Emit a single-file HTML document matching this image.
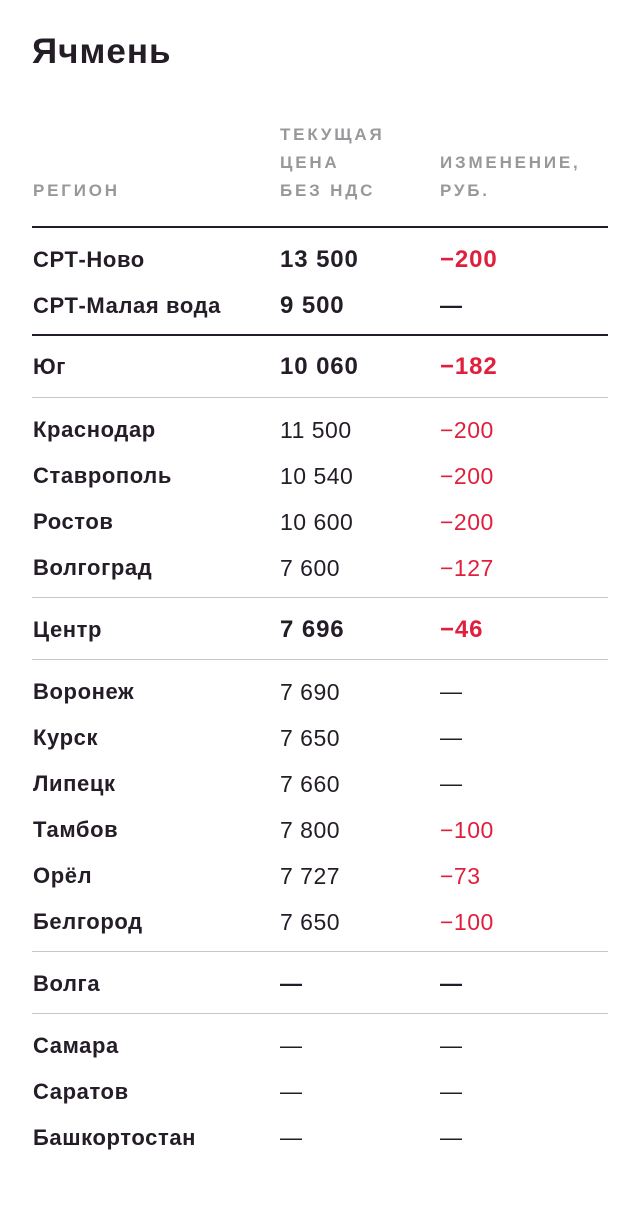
<!DOCTYPE html>
<html><head><meta charset="utf-8"><style>
body{margin:0;width:640px;height:1208px;background:#fff;position:relative;font-family:"Liberation Sans",sans-serif;color:#241c27;overflow:hidden}
.t{position:absolute;white-space:nowrap;line-height:30px;height:30px;font-size:22px;letter-spacing:0.6px}
.b{font-weight:bold}
.n{font-size:23px;letter-spacing:0.5px}
.bn{font-size:24px;letter-spacing:0.9px}
.r{color:#e01f3d}
.h{position:absolute;font-size:17px;letter-spacing:2.8px;color:#9a979b;line-height:28px;font-weight:bold}
.l{position:absolute;left:32px;width:576px;height:1px;background:#c8c6c9}
.d{background:#241c27;height:2px}
</style></head><body>
<div style="position:absolute;left:32px;top:32px;font-size:35px;font-weight:bold;letter-spacing:1px">Ячмень</div>
<div class="h" style="left:33px;top:177px">РЕГИОН</div>
<div class="h" style="left:280px;top:121px">ТЕКУЩАЯ<br>ЦЕНА<br>БЕЗ НДС</div>
<div class="h" style="left:440px;top:149px">ИЗМЕНЕНИЕ,<br>РУБ.</div>
<div class="l d" style="top:226px"></div>
<div class="l d" style="top:334px"></div>
<div class="l" style="top:397px"></div>
<div class="l" style="top:597px"></div>
<div class="l" style="top:659px"></div>
<div class="l" style="top:951px"></div>
<div class="l" style="top:1013px"></div>

<div class="t b" style="left:33px;top:245px">СРТ-Ново</div><div class="t b bn" style="left:280px;top:245px">13 500</div><div class="t b bn r" style="left:440px;top:245px">−200</div>
<div class="t b" style="left:33px;top:291px">СРТ-Малая вода</div><div class="t b bn" style="left:280px;top:291px">9 500</div><div class="t b" style="left:440px;top:291px">—</div>
<div class="t b" style="left:33px;top:352px">Юг</div><div class="t b bn" style="left:280px;top:352px">10 060</div><div class="t b bn r" style="left:440px;top:352px">−182</div>

<div class="t b" style="left:33px;top:415px">Краснодар</div><div class="t n" style="left:280px;top:415px">11 500</div><div class="t n r" style="left:440px;top:415px">−200</div>
<div class="t b" style="left:33px;top:461px">Ставрополь</div><div class="t n" style="left:280px;top:461px">10 540</div><div class="t n r" style="left:440px;top:461px">−200</div>
<div class="t b" style="left:33px;top:507px">Ростов</div><div class="t n" style="left:280px;top:507px">10 600</div><div class="t n r" style="left:440px;top:507px">−200</div>
<div class="t b" style="left:33px;top:553px">Волгоград</div><div class="t n" style="left:280px;top:553px">7 600</div><div class="t n r" style="left:440px;top:553px">−127</div>

<div class="t b" style="left:33px;top:615px">Центр</div><div class="t b bn" style="left:280px;top:615px">7 696</div><div class="t b bn r" style="left:440px;top:615px">−46</div>

<div class="t b" style="left:33px;top:677px">Воронеж</div><div class="t n" style="left:280px;top:677px">7 690</div><div class="t" style="left:440px;top:677px">—</div>
<div class="t b" style="left:33px;top:723px">Курск</div><div class="t n" style="left:280px;top:723px">7 650</div><div class="t" style="left:440px;top:723px">—</div>
<div class="t b" style="left:33px;top:769px">Липецк</div><div class="t n" style="left:280px;top:769px">7 660</div><div class="t" style="left:440px;top:769px">—</div>
<div class="t b" style="left:33px;top:815px">Тамбов</div><div class="t n" style="left:280px;top:815px">7 800</div><div class="t n r" style="left:440px;top:815px">−100</div>
<div class="t b" style="left:33px;top:861px">Орёл</div><div class="t n" style="left:280px;top:861px">7 727</div><div class="t n r" style="left:440px;top:861px">−73</div>
<div class="t b" style="left:33px;top:907px">Белгород</div><div class="t n" style="left:280px;top:907px">7 650</div><div class="t n r" style="left:440px;top:907px">−100</div>

<div class="t b" style="left:33px;top:969px">Волга</div><div class="t b" style="left:280px;top:969px">—</div><div class="t b" style="left:440px;top:969px">—</div>

<div class="t b" style="left:33px;top:1031px">Самара</div><div class="t" style="left:280px;top:1031px">—</div><div class="t" style="left:440px;top:1031px">—</div>
<div class="t b" style="left:33px;top:1077px">Саратов</div><div class="t" style="left:280px;top:1077px">—</div><div class="t" style="left:440px;top:1077px">—</div>
<div class="t b" style="left:33px;top:1123px">Башкортостан</div><div class="t" style="left:280px;top:1123px">—</div><div class="t" style="left:440px;top:1123px">—</div>
</body></html>
